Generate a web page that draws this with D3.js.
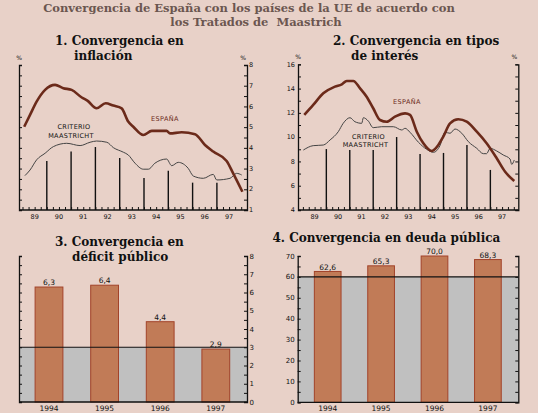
<!DOCTYPE html>
<html><head><meta charset="utf-8">
<script src="https://cdn.jsdelivr.net/npm/d3@7"></script>
<style>
html,body{margin:0;padding:0;background:#E8D1C8;}
svg{display:block;}
text{white-space:pre;}
</style></head>
<body>
<svg id="c" width="538" height="413"></svg>
<script>
// ---------- DATA ----------
const mainTitle = ["Convergencia de España con los países de la UE de acuerdo con", "los Tratados de  Maastrich"];
const yearLabels = ["89","90","91","92","93","94","95","96","97"];
const boundaryYears = [1990,1991,1992,1993,1994,1995,1996,1997];

// Panel 1: inflación (fractional year, %)
const inflEspana = [[1989.07,5.02],[1989.31,5.59],[1989.58,6.23],[1989.93,6.80],[1990.34,7.04],[1990.68,6.88],[1991.02,6.80],[1991.44,6.43],[1991.67,6.28],[1992.05,5.91],[1992.42,6.15],[1992.74,6.04],[1993.08,5.91],[1993.35,5.27],[1993.56,5.02],[1993.97,4.62],[1994.32,4.82],[1994.93,4.82],[1995.07,4.70],[1995.55,4.75],[1996.10,4.66],[1996.51,4.14],[1996.85,3.82],[1997.40,3.37],[1997.67,2.77],[1998.05,1.88]];
const inflCriterio = [[1989.10,2.66],[1989.31,2.93],[1989.58,3.42],[1989.93,3.74],[1990.27,4.06],[1990.82,4.22],[1991.37,4.11],[1991.78,4.27],[1992.05,4.33],[1992.47,4.27],[1992.74,4.01],[1993.15,3.79],[1993.35,3.66],[1993.63,3.26],[1993.97,2.97],[1994.18,2.97],[1994.45,3.26],[1994.93,3.46],[1995.14,3.14],[1995.41,3.30],[1995.82,3.01],[1996.03,2.64],[1996.44,2.53],[1996.85,2.72],[1996.99,2.45],[1997.54,2.53],[1997.81,2.77],[1998.02,2.69]];
const inflAnnual = [3.37,3.82,4.04,3.51,2.55,2.90,2.32,2.32];
const inflTicks = [1,2,3,4,5,6,7,8];

// Panel 2: tipos de interés
const tipoEspana = [[1989.06,11.83],[1989.44,12.65],[1989.87,13.61],[1990.37,14.16],[1990.66,14.35],[1990.87,14.63],[1991.15,14.63],[1991.44,14.02],[1991.72,13.33],[1992.0,12.38],[1992.29,11.41],[1992.58,11.27],[1992.93,11.69],[1993.36,11.96],[1993.57,11.83],[1993.86,10.45],[1994.14,9.49],[1994.50,8.86],[1994.78,9.35],[1994.99,10.04],[1995.28,11.14],[1995.63,11.47],[1995.99,11.27],[1996.42,10.45],[1996.84,9.49],[1997.27,8.26],[1997.63,7.15],[1998.02,6.39]];
const tipoCriterio = [[1989.02,8.94],[1989.44,9.30],[1989.87,9.35],[1990.16,9.77],[1990.51,10.45],[1990.72,11.14],[1991.01,11.60],[1991.22,11.27],[1991.51,11.14],[1991.58,11.60],[1991.79,11.33],[1992.0,10.78],[1992.36,10.86],[1992.86,10.86],[1993.22,10.59],[1993.36,10.73],[1993.57,10.40],[1993.93,9.58],[1994.28,9.0],[1994.57,8.75],[1994.85,9.30],[1995.06,10.40],[1995.28,10.32],[1995.49,10.67],[1995.78,10.32],[1996.06,9.63],[1996.42,9.08],[1996.70,8.64],[1996.84,8.64],[1996.99,9.08],[1997.27,8.86],[1997.55,8.53],[1997.84,8.20],[1997.91,7.76],[1998.02,8.12]];
const tipoAnnual = [9.02,8.94,8.94,10.01,8.61,8.70,9.35,7.30];
const tipoTicks = [4,6,8,10,12,14,16];

// Panel 3: déficit público
const barYears = ["1994","1995","1996","1997"];
const deficitValues = [6.3,6.4,4.4,2.9];
const deficitTicks = [0,1,2,3,4,5,6,7,8];
const deficitLimit = 3;

// Panel 4: deuda pública
const deudaValues = [62.6,65.3,70.0,68.3];
const deudaTicks = [0,10,20,30,40,50,60,70];
const deudaLimit = 60;

// ---------- STYLE ----------
const BROWN = "#6B2A1A", GREYLINE = "#444", BAR = "#C17B57", BARSTROKE = "#A2432A";
const TITLEFONT = "'DejaVu Serif', serif";
const SMALLFONT = "'DejaVu Sans', sans-serif";
const svg = d3.select("#c");
const es = d3.formatLocale({decimal: ",", thousands: ".", grouping: [3], currency: ["", "€"]});
const fmt1 = es.format(".1f");

// Main title
svg.append("text").attr("x", 249).attr("y", 12).attr("text-anchor", "middle")
  .attr("font-family", TITLEFONT).attr("font-weight", "bold").attr("font-size", 11.5)
  .attr("fill", "#6b5650").text(mainTitle[0]);
svg.append("text").attr("x", 256).attr("y", 26).attr("text-anchor", "middle")
  .attr("font-family", TITLEFONT).attr("font-weight", "bold").attr("font-size", 11.5)
  .attr("fill", "#6b5650").text(mainTitle[1]);

function panelTitle(x, y, line1, line2, x2) {
  svg.append("text").attr("x", x).attr("y", y).attr("font-family", TITLEFONT)
    .attr("font-weight", "bold").attr("font-size", 12).attr("fill", "#111").text(line1);
  if (line2) svg.append("text").attr("x", x2).attr("y", y + 15).attr("font-family", TITLEFONT)
    .attr("font-weight", "bold").attr("font-size", 12).attr("fill", "#111").text(line2);
}
panelTitle(55, 44.7, "1. Convergencia en", "inflación", 74);
panelTitle(333, 44.7, "2. Convergencia en tipos", "de interés", 351);
panelTitle(55, 245.7, "3. Convergencia en", "déficit público", 72);
panelTitle(272.5, 241.7, "4. Convergencia en deuda pública", null);

function smallText(x, y, t, anchor, size, fill) {
  return svg.append("text").attr("x", x).attr("y", y).attr("text-anchor", anchor || "middle")
    .attr("font-family", SMALLFONT).attr("font-size", size || 6.5).attr("fill", fill || "#111").text(t);
}

// ---------- LINE PANELS ----------
function linePanel(o) {
  const g = svg.append("g");
  const x = d3.scaleLinear().domain([1989, 1998]).range(o.xr);
  const y = d3.scaleLinear().domain(o.yd).range([o.bottom, o.top]);
  g.selectAll("line.drop").data(o.annual).join("line")
    .attr("x1", (d, i) => x(boundaryYears[i])).attr("x2", (d, i) => x(boundaryYears[i]))
    .attr("y1", y(o.yd[0])).attr("y2", d => y(d))
    .attr("stroke", "#111").attr("stroke-width", 1.4);
  const left = g.append("g").attr("transform", `translate(${o.left},0)`)
    .call(d3.axisRight(y).tickValues(d3.range(o.yd[0], o.yd[1] + 0.001, o.minor)).tickSize(3).tickFormat(""));
  const right = g.append("g").attr("transform", `translate(${o.right},0)`)
    .call(d3.axisLeft(y).tickValues(d3.range(o.yd[0], o.yd[1] + 0.001, o.minor)).tickSize(3).tickFormat(""));
  [left, right].forEach(a => { a.select(".domain").attr("stroke", "#111").attr("stroke-width", 1.3); a.selectAll(".tick line").attr("stroke", "#111"); });
  const qt = d3.range(1989, 1998.01, 0.25).filter(t => x(t) > o.left + 1 && x(t) < o.right - 1);
  const bottom = g.append("g").attr("transform", `translate(0,${o.bottom})`)
    .call(d3.axisTop(x).tickValues(qt).tickSize(3).tickFormat(""));
  bottom.select(".domain").remove();
  bottom.selectAll(".tick line").attr("stroke", "#111");
  g.append("line").attr("x1", o.left).attr("x2", o.right).attr("y1", o.bottom).attr("y2", o.bottom)
    .attr("stroke", "#111").attr("stroke-width", 1.3);
  o.labels.forEach(v => smallText(o.labelSide === "right" ? o.right + 2 : o.left - 3, y(v) + 2.2, String(v), o.labelSide === "right" ? "start" : "end", 6.5));
  yearLabels.forEach((l, i) => smallText(x(1989 + i + 0.5), o.bottom + 9, l, "middle", 6.5));
  smallText(o.left, o.top - 5, "%", "middle", 6);
  smallText(o.right - 4, o.top - 5, "%", "middle", 6);
  const line = d3.line().x(d => x(d[0])).y(d => y(d[1])).curve(d3.curveMonotoneX);
  g.append("path").datum(o.crit).attr("d", line).attr("fill", "none").attr("stroke", GREYLINE).attr("stroke-width", 1);
  g.append("path").datum(o.esp).attr("d", line).attr("fill", "none").attr("stroke", BROWN).attr("stroke-width", 2.6);
  smallText(o.espLab[0], o.espLab[1], "ESPAÑA", "middle", 6.5, BROWN).attr("letter-spacing", 0.4);
  smallText(o.critLab[0], o.critLab[1], "CRITERIO", "middle", 6.5).attr("letter-spacing", 0.3);
  smallText(o.critLab[0] - 3, o.critLab[1] + 8.5, "MAASTRICHT", "middle", 6.5).attr("letter-spacing", 0.3);
}

linePanel({xr: [22.5, 241.2], left: 19, right: 247, top: 65, bottom: 210, yd: [1, 8], minor: 0.5,
  labels: inflTicks, labelSide: "right", annual: inflAnnual, esp: inflEspana, crit: inflCriterio,
  espLab: [165, 121], critLab: [74, 129]});
linePanel({xr: [302.9, 513.8], left: 298, right: 518.3, top: 64.3, bottom: 210, yd: [4, 16], minor: 1,
  labels: tipoTicks, labelSide: "left", annual: tipoAnnual, esp: tipoEspana, crit: tipoCriterio,
  espLab: [407, 104], critLab: [368.5, 138.5]});

// ---------- BAR PANELS ----------
function barPanel(o) {
  const g = svg.append("g");
  const x = d3.scaleBand().domain(barYears).range(o.xr).paddingInner(0.5).paddingOuter(0.25);
  const y = d3.scaleLinear().domain(o.yd).range([o.bottom, o.top]);
  g.append("rect").attr("x", o.left).attr("width", o.right - o.left)
    .attr("y", y(o.limit)).attr("height", y(o.yd[0]) - y(o.limit)).attr("fill", "#C0C0C0");
  g.selectAll("rect.bar").data(o.values).join("rect")
    .attr("x", (d, i) => x(barYears[i])).attr("width", x.bandwidth())
    .attr("y", d => y(d)).attr("height", d => y(o.yd[0]) - y(d))
    .attr("fill", BAR).attr("stroke", BARSTROKE).attr("stroke-width", 1);
  g.append("line").attr("x1", o.left).attr("x2", o.right).attr("y1", y(o.limit)).attr("y2", y(o.limit))
    .attr("stroke", "#111").attr("stroke-width", 1.2);
  const left = g.append("g").attr("transform", `translate(${o.left},0)`)
    .call(d3.axisRight(y).tickValues(d3.range(o.yd[0], o.yd[1] + 0.001, o.minor)).tickSize(3).tickFormat(""));
  const right = g.append("g").attr("transform", `translate(${o.right},0)`)
    .call(d3.axisLeft(y).tickValues(d3.range(o.yd[0], o.yd[1] + 0.001, o.minor)).tickSize(3).tickFormat(""));
  [left, right].forEach(a => { a.select(".domain").attr("stroke", "#111").attr("stroke-width", 1.3); a.selectAll(".tick line").attr("stroke", "#111"); });
  g.append("line").attr("x1", o.left).attr("x2", o.right).attr("y1", o.bottom).attr("y2", o.bottom)
    .attr("stroke", "#111").attr("stroke-width", 1.3);
  o.ticks.forEach(v => smallText(o.labelSide === "right" ? o.right + 2.5 : o.left - 3, y(v) + 2.5, String(v), o.labelSide === "right" ? "start" : "end", 7));
  o.values.forEach((v, i) => smallText(x(barYears[i]) + x.bandwidth() / 2, y(v) - 1.8, fmt1(v), "middle", 7.5));
  barYears.forEach(l => smallText(x(l) + x.bandwidth() / 2, o.bottom + 9, l, "middle", 7.5));
}

barPanel({xr: [21.2, 243.6], left: 19, right: 247, top: 256, bottom: 402, yd: [0, 8], minor: 0.5,
  ticks: deficitTicks, labelSide: "right", values: deficitValues, limit: deficitLimit});
barPanel({xr: [301, 514.6], left: 297.7, right: 518.3, top: 256, bottom: 402.3, yd: [0, 70], minor: 5,
  ticks: deudaTicks, labelSide: "left", values: deudaValues, limit: deudaLimit});
</script>
</body></html>
